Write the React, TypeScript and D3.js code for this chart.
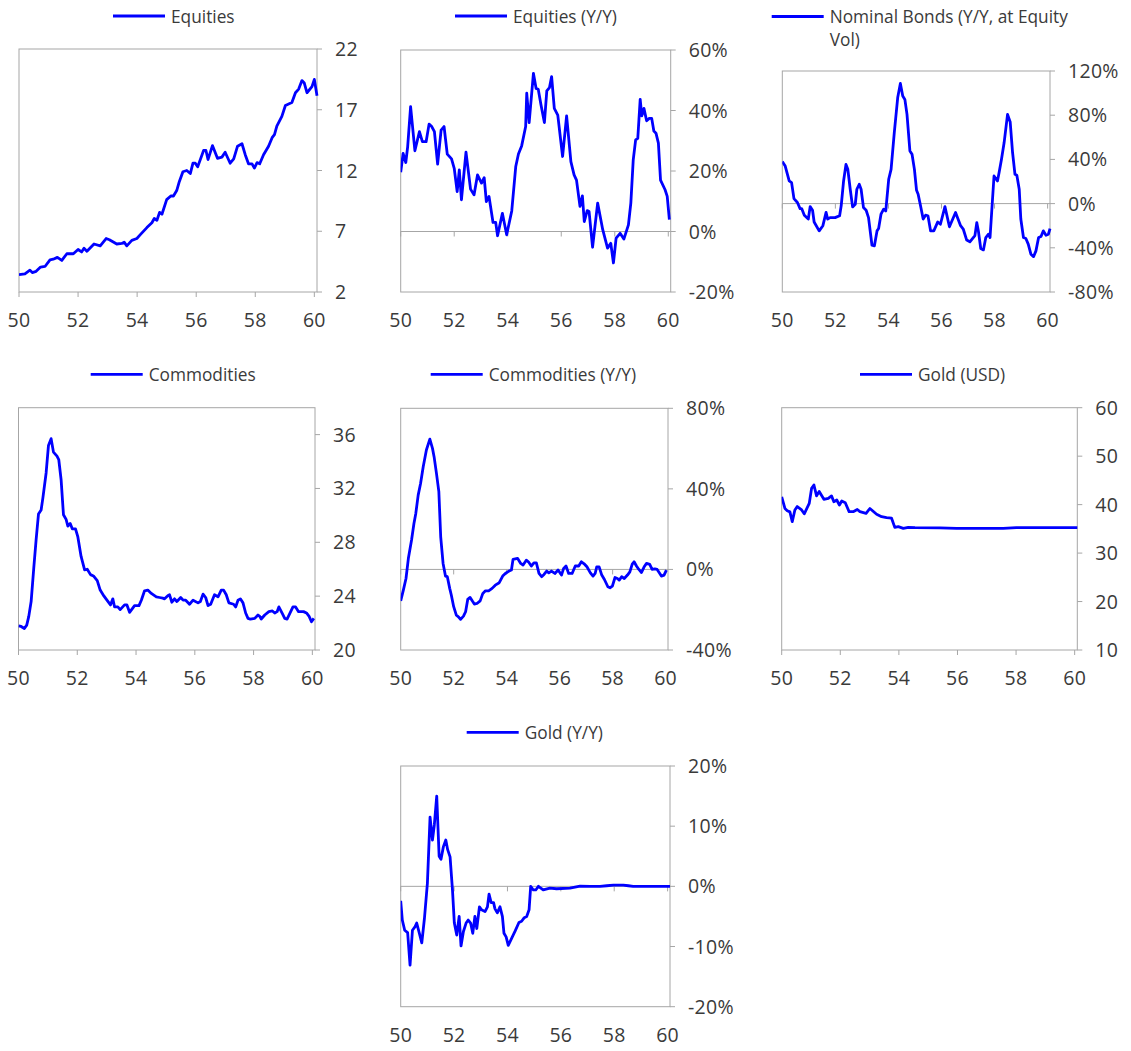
import React from 'react';
import * as d3 from 'd3';

type Pt = [number, number];

const xTicks = [50, 52, 54, 56, 58, 60];
const xDomain: [number, number] = [50, 60.09];

const equities: Pt[] = [
  [50.0, 3.43], [50.2, 3.5], [50.37, 3.8], [50.45, 3.6], [50.58, 3.7], [50.73, 4.05], [50.88, 4.1],
  [51.05, 4.65], [51.16, 4.7], [51.3, 4.85], [51.45, 4.6], [51.62, 5.15], [51.84, 5.15], [52.0, 5.5],
  [52.12, 5.3], [52.2, 5.6], [52.3, 5.35], [52.54, 5.95], [52.75, 5.8], [52.95, 6.4], [53.06, 6.3],
  [53.31, 5.95], [53.48, 6.0], [53.56, 6.1], [53.65, 5.8], [53.82, 6.25], [53.99, 6.4], [54.1, 6.7],
  [54.33, 7.3], [54.5, 7.7], [54.58, 8.05], [54.67, 7.9], [54.76, 8.55], [54.84, 8.4], [55.0, 9.6],
  [55.14, 9.9], [55.23, 9.9], [55.34, 10.35], [55.43, 11.1], [55.55, 11.9], [55.68, 12.0], [55.8, 11.75],
  [55.89, 12.6], [55.97, 12.6], [56.05, 12.3], [56.25, 13.65], [56.33, 13.65], [56.4, 12.9], [56.55, 14.05],
  [56.72, 13.0], [56.87, 13.1], [56.98, 13.5], [57.15, 12.6], [57.27, 12.95], [57.4, 14.0], [57.55, 14.2],
  [57.66, 13.3], [57.77, 12.55], [57.89, 12.55], [57.97, 12.2], [58.06, 12.65], [58.15, 12.55], [58.28, 13.3],
  [58.45, 14.0], [58.57, 14.7], [58.65, 14.95], [58.73, 15.65], [58.9, 16.45], [59.02, 17.35], [59.24, 17.6],
  [59.36, 18.4], [59.47, 18.7], [59.58, 19.4], [59.66, 19.2], [59.75, 18.4], [59.92, 18.9], [60.0, 19.5],
  [60.09, 18.15],
];

const equitiesYoY: Pt[] = [
  [50.0, 19.6], [50.09, 25.8], [50.19, 22.8], [50.26, 28], [50.37, 41.3], [50.53, 26.7], [50.7, 33],
  [50.81, 29.7], [50.95, 29.7], [51.06, 35.5], [51.16, 34.7], [51.26, 33], [51.38, 22.3], [51.51, 33.5],
  [51.62, 34.7], [51.74, 25.6], [51.9, 24], [52.0, 20.9], [52.11, 13.2], [52.19, 20.4], [52.27, 10.5],
  [52.44, 26.2], [52.61, 14], [52.74, 12.1], [52.87, 18.7], [53.02, 16], [53.12, 17.8], [53.2, 9.9],
  [53.3, 11.6], [53.45, 3], [53.55, 3], [53.62, -1.4], [53.8, 6], [53.96, -1.1], [54.15, 6.8],
  [54.3, 21.5], [54.4, 25.6], [54.52, 28.3], [54.67, 34.7], [54.71, 45.7], [54.8, 36], [54.96, 52.3],
  [55.06, 47.3], [55.14, 47], [55.24, 42], [55.37, 36], [55.46, 46.5], [55.56, 47.6], [55.64, 51.2],
  [55.74, 40.7], [55.87, 38.5], [56.05, 24.8], [56.2, 38.2], [56.36, 23.1], [56.48, 18.7], [56.57, 17],
  [56.7, 8.3], [56.79, 11.8], [56.86, 3.3], [56.97, 6.9], [57.04, 6.6], [57.17, -5.2], [57.36, 9.4],
  [57.55, 0.6], [57.73, -5.5], [57.85, -3.9], [57.95, -10.4], [58.05, -2.2], [58.2, -0.6], [58.34, -2.5],
  [58.51, 2.2], [58.6, 9.4], [58.69, 23.7], [58.78, 30.3], [58.86, 30.8], [58.95, 43.7], [59.01, 38.2],
  [59.09, 40.7], [59.19, 36.6], [59.29, 37.4], [59.38, 37.4], [59.46, 33.2], [59.54, 32.5], [59.63, 29.2],
  [59.71, 17], [59.88, 13.8], [59.96, 11.6], [60.04, 3.9],
];

const nominalBonds: Pt[] = [
  [50.0, 38], [50.11, 34], [50.26, 20.5], [50.35, 19], [50.44, 4.5], [50.57, 1], [50.67, -4.5],
  [50.73, -4.5], [50.83, -10.5], [50.98, -14], [51.05, -2.7], [51.14, -6], [51.2, -16.6], [51.39, -24.7],
  [51.53, -20], [51.65, -8], [51.71, -14], [51.8, -12.7], [51.99, -12.7], [52.16, -11], [52.22, -2],
  [52.31, 20.5], [52.4, 35.5], [52.47, 31], [52.56, 13], [52.65, -3], [52.75, -0.6], [52.81, 13],
  [52.9, 17.5], [52.97, 13], [53.06, -3.6], [53.16, -6], [53.25, -12.7], [53.38, -37.7], [53.47, -38.3],
  [53.57, -24.7], [53.63, -22.6], [53.72, -9.6], [53.82, -5], [53.9, -6.6], [54.01, 22], [54.1, 31],
  [54.22, 64], [54.35, 96], [54.45, 108.7], [54.54, 97.3], [54.62, 94.3], [54.7, 80.7], [54.81, 47.6],
  [54.89, 44.6], [54.98, 31], [55.06, 12], [55.12, 8.4], [55.21, -2], [55.31, -14], [55.4, -10.5],
  [55.49, -11], [55.59, -24.7], [55.71, -24.7], [55.86, -16.6], [55.96, -18.7], [56.13, -2.7], [56.3, -21],
  [56.53, -8], [56.72, -20], [56.82, -23], [56.95, -33], [57.07, -34.6], [57.26, -29], [57.33, -17.2],
  [57.39, -24.7], [57.48, -40.7], [57.58, -41.9], [57.67, -30.7], [57.77, -27.7], [57.83, -30.7], [57.98, 25],
  [58.11, 20.5], [58.17, 28], [58.26, 40], [58.36, 55], [58.49, 80.7], [58.59, 73.8], [58.68, 46],
  [58.77, 26.5], [58.84, 25.6], [58.93, 13], [58.99, -14], [59.09, -30.7], [59.18, -31.6], [59.27, -36.7],
  [59.37, -45.8], [59.47, -48], [59.56, -42.8], [59.66, -30.7], [59.75, -29.8], [59.84, -24.7], [59.94, -28.6],
  [60.03, -27.7], [60.09, -22.6],
];

const commodities: Pt[] = [
  [50.0, 21.8], [50.09, 21.75], [50.2, 21.6], [50.28, 21.85], [50.35, 22.5], [50.43, 23.6], [50.52, 26.1],
  [50.6, 28.2], [50.68, 30.1], [50.77, 30.4], [50.83, 31.3], [50.94, 33.15], [51.02, 35.2], [51.11, 35.7],
  [51.19, 34.7], [51.31, 34.4], [51.37, 34.15], [51.45, 32.65], [51.53, 30.05], [51.62, 29.7], [51.68, 29.2],
  [51.76, 29.4], [51.83, 29], [51.94, 29], [52.02, 28.4], [52.13, 26.95], [52.25, 25.95], [52.34, 26],
  [52.45, 25.6], [52.55, 25.5], [52.68, 25.15], [52.78, 24.45], [52.91, 24], [53.01, 23.7], [53.13, 23.35],
  [53.21, 23.8], [53.27, 23.2], [53.38, 23.2], [53.46, 23], [53.61, 23.35], [53.69, 23.35], [53.78, 22.8],
  [53.95, 23.3], [54.1, 23.3], [54.18, 23.7], [54.29, 24.4], [54.4, 24.45], [54.52, 24.2], [54.69, 23.95],
  [54.8, 23.9], [54.91, 23.85], [54.97, 23.8], [55.09, 24.05], [55.14, 24.1], [55.22, 23.55], [55.31, 23.8],
  [55.39, 23.6], [55.52, 23.9], [55.6, 23.7], [55.69, 23.7], [55.82, 23.4], [55.94, 23.7], [56.11, 23.5],
  [56.19, 23.6], [56.28, 24.15], [56.37, 23.9], [56.45, 23.3], [56.54, 23.4], [56.67, 24.1], [56.79, 23.95],
  [56.9, 24.45], [56.98, 24.45], [57.07, 24.1], [57.16, 23.5], [57.32, 23.4], [57.39, 23.2], [57.47, 23.7],
  [57.55, 23.8], [57.64, 23.5], [57.73, 22.75], [57.81, 22.35], [57.89, 22.3], [58.04, 22.35], [58.15, 22.6],
  [58.21, 22.5], [58.26, 22.3], [58.38, 22.6], [58.52, 22.85], [58.64, 22.9], [58.72, 22.75], [58.8, 22.85],
  [58.86, 23.2], [58.98, 22.7], [59.06, 22.35], [59.14, 22.3], [59.23, 22.7], [59.34, 23.2], [59.43, 23.2],
  [59.53, 22.85], [59.62, 22.85], [59.7, 22.85], [59.8, 22.75], [59.89, 22.5], [59.97, 22.1], [60.05, 22.35],
];

const commoditiesYoY: Pt[] = [
  [50.0, -15.6], [50.1, -10.3], [50.2, -4.5], [50.29, 5.5], [50.41, 14.6], [50.5, 22.8], [50.57, 27.8],
  [50.66, 36.9], [50.75, 42.7], [50.85, 51], [50.97, 59.3], [51.1, 64.7], [51.2, 60.1], [51.26, 56],
  [51.35, 47.7], [51.44, 38.6], [51.51, 16.2], [51.6, 3], [51.69, -3.3], [51.76, -3.6], [51.85, -9.4],
  [51.91, -12.7], [52.0, -18.5], [52.1, -22.7], [52.18, -23.5], [52.26, -24.8], [52.37, -23.2], [52.45, -21],
  [52.53, -14.9], [52.62, -13.9], [52.7, -15.6], [52.78, -17.2], [52.88, -16.9], [53.0, -15.6], [53.1, -11.9],
  [53.2, -10.6], [53.32, -10.6], [53.45, -9.4], [53.57, -7.8], [53.72, -6.6], [53.85, -3.3], [53.95, -2],
  [54.1, -0.7], [54.18, -0.3], [54.24, 5], [54.41, 5.5], [54.53, 3], [54.62, 2.2], [54.74, 4.6],
  [54.82, 3.8], [54.93, 1.7], [55.03, 3.3], [55.12, 3.3], [55.22, -2], [55.32, -3.6], [55.41, -2.5],
  [55.51, -0.8], [55.59, -1.7], [55.69, -0.8], [55.82, -2], [55.94, -0.3], [56.07, -2.8], [56.15, 0.5],
  [56.24, 1.7], [56.34, -2], [56.47, -2], [56.59, 1.7], [56.72, 1.7], [56.82, 3.8], [56.94, 2.6],
  [57.03, 1.3], [57.16, -1.7], [57.26, -3.3], [57.34, -2], [57.4, 1.3], [57.49, 1.3], [57.59, -2.8],
  [57.69, -5], [57.82, -8.6], [57.9, -9.1], [57.99, -8.3], [58.09, -4], [58.18, -4.5], [58.25, -5.3],
  [58.34, -3.6], [58.44, -4.5], [58.56, -2.8], [58.65, -1.2], [58.74, 2.6], [58.81, 3.8], [58.9, 1.7],
  [58.99, 0], [59.09, -1.5], [59.19, 1.3], [59.28, 3], [59.4, 2.5], [59.49, 0], [59.59, 0.3],
  [59.68, 0], [59.78, -2], [59.84, -3.3], [59.94, -2.8], [60.03, -0.3],
];

const goldUsd: Pt[] = [
  [50.0, 41.6], [50.11, 39.2], [50.19, 38.75], [50.28, 38.5], [50.36, 36.5], [50.45, 38.9], [50.53, 39.6],
  [50.68, 38.9], [50.77, 38.1], [50.94, 40.25], [51.02, 43.35], [51.1, 44.05], [51.19, 41.8], [51.28, 42.7],
  [51.44, 41.1], [51.59, 41.3], [51.7, 41.8], [51.78, 40.6], [51.88, 40.95], [51.97, 39.9], [52.05, 40.75],
  [52.17, 40.4], [52.3, 38.55], [52.44, 38.55], [52.58, 39], [52.67, 38.55], [52.88, 38.2], [53.01, 39.2],
  [53.24, 38], [53.41, 37.5], [53.58, 37.3], [53.75, 37.2], [53.86, 35.3], [53.98, 35.45], [54.15, 35.1],
  [54.32, 35.3], [54.55, 35.25], [55.4, 35.2], [55.97, 35.1], [56.53, 35.1], [57.1, 35.1], [57.56, 35.1],
  [58.01, 35.25], [60.09, 35.25],
];

const goldYoY: Pt[] = [
  [50.0, -2.4], [50.06, -5.6], [50.15, -7.3], [50.26, -7.7], [50.35, -13.1], [50.44, -7.3], [50.54, -6.7],
  [50.6, -6.1], [50.7, -7.8], [50.79, -9.4], [50.89, -5.3], [51.0, 0.5], [51.1, 11.5], [51.19, 7.7],
  [51.26, 10.2], [51.35, 15], [51.44, 5], [51.51, 4.5], [51.6, 6.6], [51.69, 7.7], [51.76, 6.1],
  [51.85, 4.9], [51.94, -0.6], [52.01, -6.1], [52.1, -8.1], [52.19, -5], [52.26, -9.9], [52.35, -7.5],
  [52.45, -6.1], [52.53, -5.6], [52.62, -6.1], [52.7, -7.8], [52.78, -5], [52.85, -7], [52.95, -3.4],
  [53.03, -3.9], [53.16, -4.2], [53.25, -3.4], [53.31, -1.3], [53.39, -2.7], [53.48, -2.7], [53.53, -3.7],
  [53.62, -4.4], [53.72, -3.4], [53.81, -5], [53.87, -7.8], [53.95, -8.4], [54.03, -9.8], [54.16, -8.6],
  [54.29, -7.4], [54.43, -6], [54.53, -5.8], [54.63, -5.2], [54.72, -5], [54.81, -3.9], [54.87, 0],
  [54.97, -0.6], [55.06, -0.6], [55.16, 0], [55.34, -0.6], [55.59, -0.3], [55.84, -0.4], [56.34, -0.3],
  [56.72, 0.05], [57.1, 0], [57.47, 0], [57.72, 0.1], [57.97, 0.2], [58.34, 0.2], [58.53, 0.1],
  [58.71, 0], [60.09, 0],
];

const equitiesTicks = [2, 7, 12, 17, 22];
const equitiesYoYTicks = [-20, 0, 20, 40, 60];
const bondsTicks = [-80, -40, 0, 40, 80, 120];
const commoditiesTicks = [20, 24, 28, 32, 36];
const commoditiesYoYTicks = [-40, 0, 40, 80];
const goldTicks = [10, 20, 30, 40, 50, 60];
const goldYoYTicks = [-20, -10, 0, 10, 20];

const FONT = "'Open Sans', 'DejaVu Sans', sans-serif";
const TEXT = '#3a3a3a';
const AXIS = '#a6a6a6';
const LINE = '#0000ff';

type PanelProps = {
  left: number; right: number; top: number; bottom: number;
  data: Pt[];
  yDomain: [number, number];
  yTicks: number[];
  pct: boolean;
  zero: boolean;
  title: string[];
  legendX: number; legendY: number;
};

function Panel(p: PanelProps) {
  const x = d3.scaleLinear().domain(xDomain).range([p.left, p.right]);
  const y = d3.scaleLinear().domain(p.yDomain).range([p.bottom, p.top]);
  const line = d3.line<Pt>().x(d => x(d[0])).y(d => y(d[1]));
  const fmt = (v: number) => (p.pct ? `${v}%` : `${v}`);
  const axisY = p.zero ? y(0) : p.bottom;
  const id = `clip-${Math.round(p.left)}-${Math.round(p.top)}`;
  return (
    <g>
      <defs>
        <clipPath id={id}>
          <rect x={p.left} y={p.top - 2} width={p.right - p.left + 2} height={p.bottom - p.top + 4} />
        </clipPath>
      </defs>
      <rect x={p.left} y={p.top} width={p.right - p.left} height={p.bottom - p.top}
        fill="none" stroke={AXIS} strokeWidth={1} />
      {p.zero && (
        <line x1={p.left} x2={p.right} y1={axisY} y2={axisY} stroke={AXIS} strokeWidth={1} />
      )}
      {xTicks.map(t => (
        <g key={`x${t}`}>
          <line x1={x(t)} x2={x(t)} y1={axisY} y2={axisY + 5} stroke={AXIS} strokeWidth={1} />
          <text x={x(t)} y={p.bottom + 35} textAnchor="middle" fontSize={19.5}
            letterSpacing={0.3} fill={TEXT} fontFamily={FONT}>{t}</text>
        </g>
      ))}
      {p.yTicks.map(t => (
        <g key={`y${t}`}>
          <line x1={p.right} x2={p.right + 5} y1={y(t)} y2={y(t)} stroke={AXIS} strokeWidth={1} />
          <text x={p.right + 18} y={y(t) + 7} fontSize={19.5} letterSpacing={0.3}
            fill={TEXT} fontFamily={FONT}>{fmt(t)}</text>
        </g>
      ))}
      <path d={line(p.data) || ''} fill="none" stroke={LINE} strokeWidth={2.8}
        strokeLinejoin="round" clipPath={`url(#${id})`} />
      <line x1={p.legendX} x2={p.legendX + 52} y1={p.legendY} y2={p.legendY}
        stroke={LINE} strokeWidth={2.8} />
      {p.title.map((s, i) => (
        <text key={i} x={p.legendX + 58} y={p.legendY + 6.5 + i * 22.5} fontSize={17.3}
          fill={TEXT} fontFamily={FONT}>{s}</text>
      ))}
    </g>
  );
}

export default function App() {
  return (
    <svg width={1131} height={1051} style={{ position: 'absolute', left: 0, top: 0, background: '#fff' }}>
      <Panel left={19} right={317} top={49} bottom={292} data={equities} yDomain={[2, 22]}
        yTicks={equitiesTicks} pct={false} zero={false} title={['Equities']} legendX={113} legendY={16} />
      <Panel left={400.7} right={670.7} top={50} bottom={292} data={equitiesYoY} yDomain={[-20, 60]}
        yTicks={equitiesYoYTicks} pct={true} zero={true} title={['Equities (Y/Y)']} legendX={455} legendY={16} />
      <Panel left={782.3} right={1050} top={71} bottom={292} data={nominalBonds} yDomain={[-80, 120]}
        yTicks={bondsTicks} pct={true} zero={true} title={['Nominal Bonds (Y/Y, at Equity', 'Vol)']}
        legendX={771.7} legendY={16.5} />
      <Panel left={18.5} right={315} top={407.7} bottom={650} data={commodities} yDomain={[20, 38]}
        yTicks={commoditiesTicks} pct={false} zero={false} title={['Commodities']} legendX={90.7} legendY={374.3} />
      <Panel left={400.7} right={668} top={408.3} bottom={650} data={commoditiesYoY} yDomain={[-40, 80]}
        yTicks={commoditiesYoYTicks} pct={true} zero={true} title={['Commodities (Y/Y)']} legendX={430.7} legendY={374.3} />
      <Panel left={781.7} right={1077.3} top={407.7} bottom={650} data={goldUsd} yDomain={[10, 60]}
        yTicks={goldTicks} pct={false} zero={false} title={['Gold (USD)']} legendX={860} legendY={374.3} />
      <Panel left={400.7} right={670} top={766} bottom={1006.7} data={goldYoY} yDomain={[-20, 20]}
        yTicks={goldYoYTicks} pct={true} zero={true} title={['Gold (Y/Y)']} legendX={466.7} legendY={732.3} />
    </svg>
  );
}
